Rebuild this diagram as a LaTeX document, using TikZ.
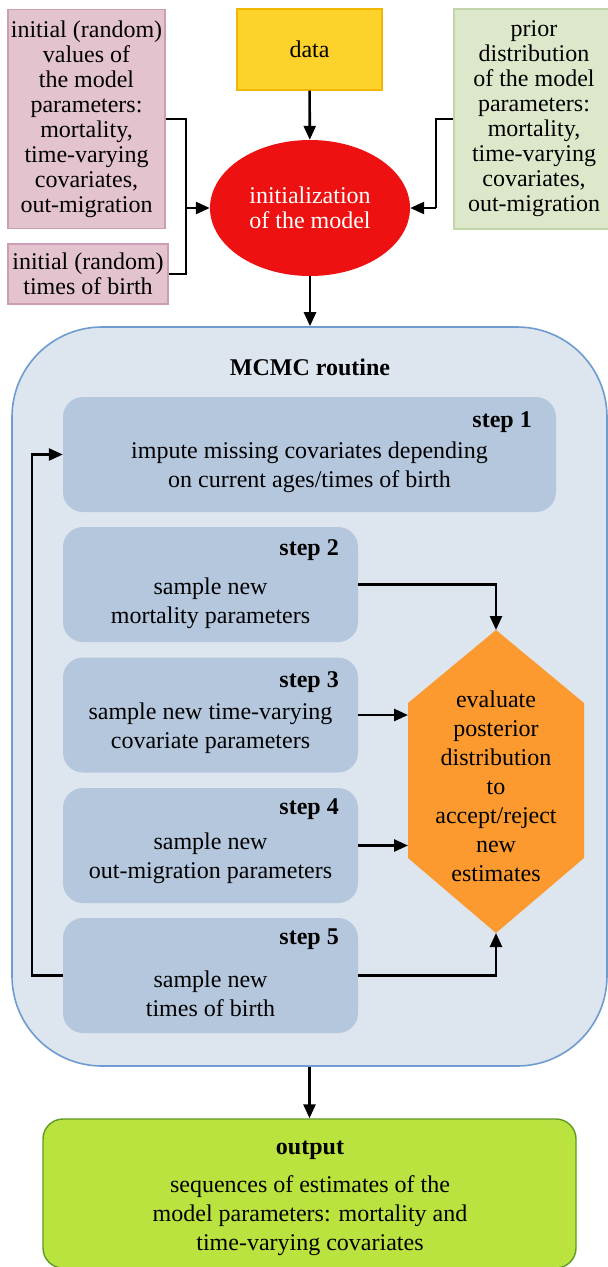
\documentclass[tikz,border=0pt]{standalone}
\usepackage{fontspec}
\setmainfont{Liberation Serif}
\usetikzlibrary{calc,arrows.meta,shapes.geometric}
\definecolor{pinkfill}{HTML}{E3C3CE}
\definecolor{pinkdraw}{HTML}{CC9DB3}
\definecolor{greenfill}{HTML}{DDE8CB}
\definecolor{greendraw}{HTML}{C2D5AA}
\definecolor{datafill}{HTML}{FDD32B}
\definecolor{datadraw}{HTML}{F2B705}
\definecolor{initred}{HTML}{EE1111}
\definecolor{mcmcfill}{HTML}{DDE5EF}
\definecolor{mcmcdraw}{HTML}{6E9BD0}
\definecolor{stepfill}{HTML}{B4C7DD}
\definecolor{hexfill}{HTML}{FC9A2F}
\definecolor{outfill}{HTML}{BBE33F}
\definecolor{outdraw}{HTML}{5F9A23}

\begin{document}
\begin{tikzpicture}[x=1pt,y=-1pt,
    every node/.style={font=\fontsize{24}{29}\selectfont,align=center,inner sep=0pt},
    >={Triangle[length=14pt,width=12pt]},
    link/.style={line width=2.6pt},
    inbox/.style={draw=pinkdraw,fill=pinkfill,line width=1.2pt,font=\fontsize{24}{25}\selectfont},
    stepbox/.style={fill=stepfill,rounded corners=20pt,minimum height=115pt},
    steplabel/.style={anchor=east,font=\fontsize{24}{29}\selectfont\bfseries}]
          \useasboundingbox (0,0) rectangle (608,1267);
          % inputs
          \node[inbox,minimum width=157pt,minimum height=219pt] (init1) at (86.5,119) {initial (random)\\values of\\the model\\parameters:\\mortality,\\time-varying\\covariates,\\out-migration};
          \node[inbox,minimum width=160pt,minimum height=60pt] (init2) at (88,274) {initial (random)\\times of birth};
          \node[draw=datadraw,fill=datafill,line width=1.2pt,minimum width=145pt,minimum height=81pt] (data) at (309.5,49.5) {data};
          \node[inbox,draw=greendraw,fill=greenfill,minimum width=160pt,minimum height=220pt] (prior) at (534,119) {prior\\distribution\\of the model\\parameters:\\mortality,\\time-varying\\covariates,\\out-migration};
          \node[ellipse,fill=initred,text=white,minimum width=200pt,minimum height=136pt,font=\fontsize{24}{25}\selectfont] (init) at (310,208) {initialization\\of the model};
          \coordinate (lj) at (186,208);
          \coordinate (rj) at (436,208);
          \draw[link] (init1) -| (lj) |- (init2);
          \draw[link,->] (lj) -- (init);
          \draw[link] (prior) -| (rj);
          \draw[link,->] (rj) -- (init);
          \draw[link,->] (data) -- (init);
          % MCMC routine
          \node[draw=mcmcdraw,fill=mcmcfill,line width=1.6pt,rounded corners=90pt,minimum width=595pt,minimum height=739pt] (mcmc) at (309.5,696.5) {};
          \draw[link,->] (init.south) -- (init.south |- mcmc.north);
          \node[font=\fontsize{24}{29}\selectfont\bfseries] (mtitle) at (310,367) {MCMC routine};
          \node[stepbox,minimum width=493pt] (s1) at (309.5,454.5) {};
          \node (t1) at (309.5,467.5) {impute missing covariates depending\\on current ages/times of birth};
          \node[steplabel] (l1) at (532,422) {step 1};
          \foreach \i/\y/\ty/\ly/\txt in {2/584.5/603/550/{sample new\\mortality parameters},
              3/715/728.5/682/{sample new time-varying\\covariate parameters},
              4/845.5/858.5/809/{sample new\\out-migration parameters},
              5/975.5/993.5/939/{sample new\\times of birth}}{
            \node[stepbox,minimum width=295pt] (s\i) at (210.5,\y) {};
            \node (t\i) at (210.5,\ty) {\txt};
            \node[steplabel] (l\i) at (339,\ly) {step \i};
          }
          \fill[hexfill] (496,630) coordinate (hexT) -- (584,703) -- (584,858) -- (496,933) coordinate (hexB)
            -- (408,858) -- (408,703) coordinate (hexL) -- cycle;
          \node (eval) at (496,786.5) {evaluate\\posterior\\distribution\\to\\accept/reject\\new\\estimates};
          \draw[link,->] (s2) -| (hexT);
          \draw[link,->] (s3) -- (s3 -| hexL);
          \draw[link,->] (s4) -- (s4 -| hexL);
          \draw[link,->] (s5) -| (hexB);
          \draw[link,->] (s5.west) -- ++(-31,0) |- (s1.west);
          % output
          \node[draw=outdraw,fill=outfill,line width=1.4pt,rounded corners=20pt,minimum width=533pt,minimum height=149pt] (out) at (309.5,1193.5) {};
          \draw[link,->] (mcmc.south) -- (out.north);
          \node[font=\fontsize{24}{29}\selectfont\bfseries] (otitle) at (310,1150) {output};
          \node (otext) at (310,1215.5) {sequences of estimates of the\\model parameters: mortality and\\time-varying covariates};
        \end{tikzpicture}
\end{document}
